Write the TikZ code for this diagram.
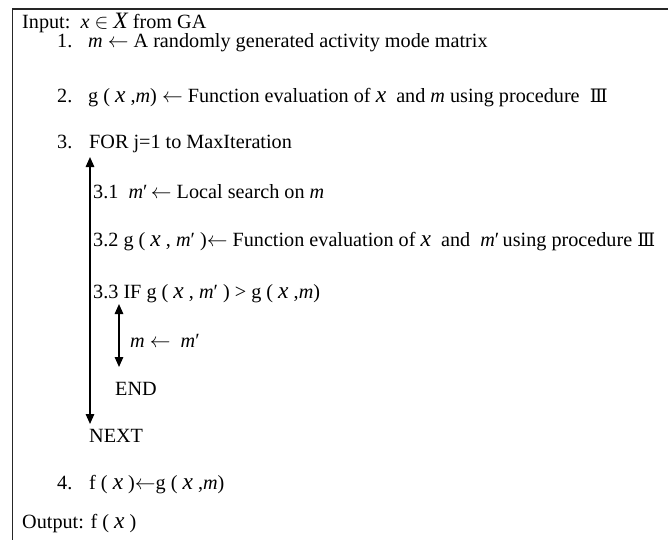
\documentclass[tikz,border=0pt]{standalone}
\usepackage{fontspec}
\setmainfont{Liberation Serif}
\newfontfamily\symfont{DejaVu Serif}
\usetikzlibrary{arrows.meta}

% variables and symbols
\newcommand{\vm}{\textit{m}}
\newcommand{\vmp}{\textit{m}′}
\newcommand{\vx}{{\fontsize{23.5}{23.5}\selectfont\itshape x}}
\newcommand{\vX}{{\fontsize{23.5}{23.5}\selectfont\itshape X}}
\newcommand{\lar}{\ensuremath{\leftarrow}}
\newcommand{\elem}{\ensuremath{\in}}
\newcommand{\procIII}{{\symfont\fontsize{18.5}{18.5}\selectfont Ⅲ}}

\begin{document}
\begin{tikzpicture}[x=1pt,y=-1pt,
  txt/.style={anchor=base west,inner sep=0pt,font=\fontsize{20.2}{22}\selectfont},
  frame/.style={line width=1.1pt,draw=black!85},
  loop/.style={line width=1.5pt,{Triangle[length=10pt,width=8.5pt]}-{Triangle[length=10pt,width=8.5pt]}}]
  \useasboundingbox (0,0) rectangle (668,540);

  % open frame: top and left edges
  \coordinate (fTR) at (668,9);
  \coordinate (fTL) at (12.5,9);
  \coordinate (fBL) at (12.5,540);
  \draw[frame] (fTR) -- (fTL) -- (fBL);

  \node[txt,text depth=0pt] (in) at (22,29) {Input:\ \ \textit{x} \elem\ \vX\ from GA};

  \node[txt] (n1) at (57,48) {1.};
  \node[txt] (s1) at (88,48) {\vm\ \lar\ A randomly generated activity mode matrix};

  \node[txt] (n2) at (57,103) {2.};
  \node[txt] (s2) at (88,103) {g ( \vx\ ,\vm) \lar\ Function evaluation of \vx\ \ and \vm\ using procedure \ \procIII};

  \node[txt] (n3) at (57,149) {3.};
  \node[txt] (s3) at (89,149) {FOR j=1 to MaxIteration};

  \node[txt] (s31) at (93,198) {3.1 \ \vmp\,\lar\ Local search on \vm};
  \node[txt] (s32) at (93,246) {3.2 g ( \vx\ , \vmp\ )\lar\ Function evaluation of \vx\ \ and \ \vmp\,using procedure \procIII};
  \node[txt] (s33) at (93,298) {3.3 IF g ( \vx\ , \vmp\ ) > g ( \vx\ ,\vm)};

  \node[txt] (asg) at (130,347) {\vm\ \lar\ \ \vmp};
  \node[txt] (end) at (115,395) {END};
  \node[txt] (nxt) at (89,442) {NEXT};

  \node[txt] (n4) at (57,489) {4.};
  \node[txt] (s4) at (89,489) {f ( \vx\ )\lar g ( \vx\ ,\vm)};

  \node[txt] (out) at (22,528) {Output: f ( \vx\ )};

  % loop brackets
  \coordinate (loopTop) at (90,157);
  \coordinate (loopBot) at (90,424);
  \draw[loop] (loopTop) -- (loopBot);
  \coordinate (ifTop) at (119,304);
  \coordinate (ifBot) at (119,367);
  \draw[loop] (ifTop) -- (ifBot);
\end{tikzpicture}
\end{document}
